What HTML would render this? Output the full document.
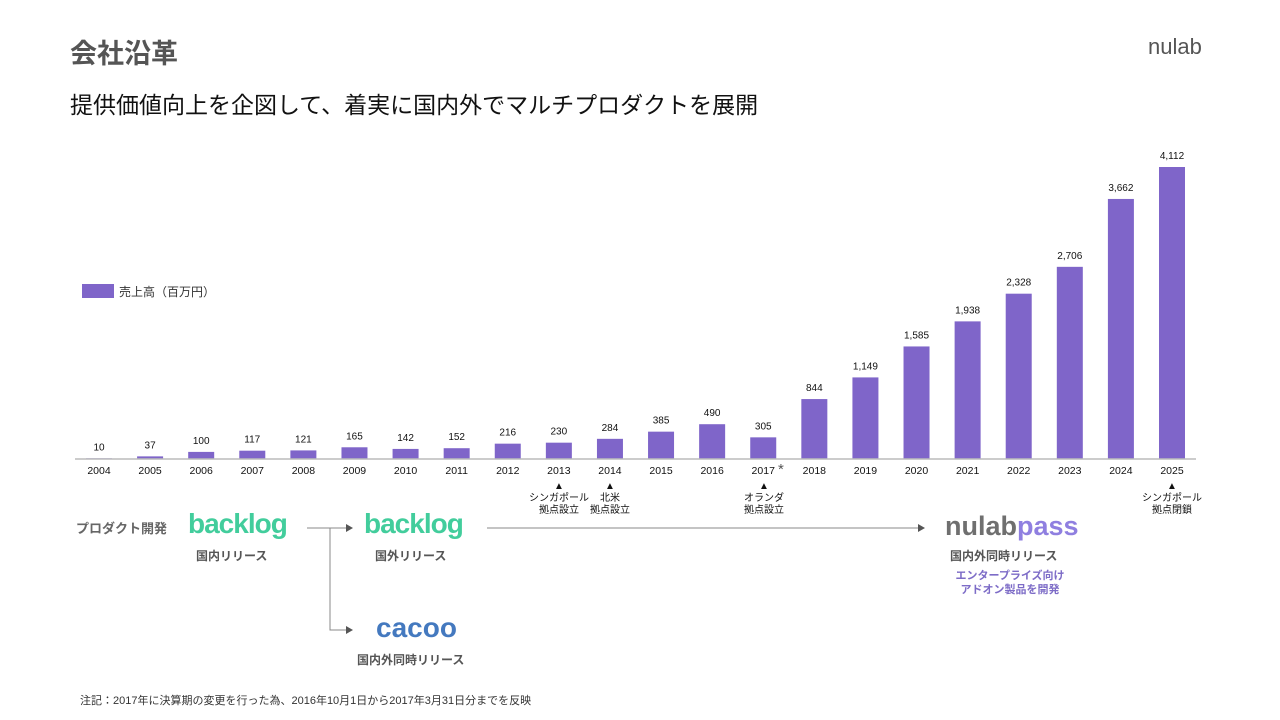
<!DOCTYPE html>
<html><head><meta charset="utf-8">
<style>
body{margin:0;width:1280px;height:720px;background:#fff;font-family:"Liberation Sans","Noto Sans CJK JP",sans-serif;position:relative;overflow:hidden}
.abs{position:absolute;white-space:nowrap}
</style></head><body>
<div class="abs" style="left:70px;top:32px;font-size:27px;font-weight:bold;color:#555">会社沿革</div>
<div class="abs" style="left:1148px;top:34px;font-size:22px;color:#555">nulab</div>
<div class="abs" style="left:70px;top:86px;font-size:23px;color:#111">提供価値向上を企図して、着実に国内外でマルチプロダクトを展開</div>
<svg id="chart" width="1280" height="720" style="position:absolute;left:0;top:0">
<rect x="82" y="284" width="32" height="14" fill="#7f65c9"/>
<text x="119" y="296" font-size="12" fill="#333" font-family="Liberation Sans, Noto Sans CJK JP, sans-serif">売上高（百万円）</text>
</svg>
<script>
const years=['2004','2005','2006','2007','2008','2009','2010','2011','2012','2013','2014','2015','2016','2017','2018','2019','2020','2021','2022','2023','2024','2025'];
const revenue=[10,37,100,117,121,165,142,152,216,230,284,385,490,305,844,1149,1585,1938,2328,2706,3662,4112];
const svg=document.getElementById('chart');
const NS='http://www.w3.org/2000/svg';
const base=459, x0=99, step=(1172-99)/21, k=292/4112, bw=26;
const xs=i=>x0+i*step, ys=v=>base-v*k;
function mk(t,a){const e=document.createElementNS(NS,t);for(const n in a)e.setAttribute(n,a[n]);svg.appendChild(e);return e;}
revenue.forEach((v,i)=>{
 const b=mk('rect',{x:xs(i)-bw/2,y:ys(v),width:bw,height:base-ys(v),fill:'#7f65c9'});
 
 
 const t=mk('text',{x:xs(i),y:ys(v)-8,'font-size':'10','text-anchor':'middle',fill:'#111','font-family':'Liberation Sans, sans-serif'});
 t.textContent=v.toLocaleString('en-US');
 
 
 const y=mk('text',{x:xs(i),y:474,'font-size':'10.5','text-anchor':'middle',fill:'#111','font-family':'Liberation Sans, sans-serif'});
 y.textContent=years[i];
 
 
});
const ax=mk('line',{x1:75,x2:1196,y1:base,y2:base,stroke:'#bbb','stroke-width':'1.5'});


</script>
<div class="abs" style="left:778px;top:461px;font-size:15px;color:#555">*</div>
<div class="abs" style="left:529px;top:481px;width:60px;text-align:center;font-size:10px;line-height:12px;color:#111">▲<br>シンガポール<br>拠点設立</div>
<div class="abs" style="left:580px;top:481px;width:60px;text-align:center;font-size:10px;line-height:12px;color:#111">▲<br>北米<br>拠点設立</div>
<div class="abs" style="left:734px;top:481px;width:60px;text-align:center;font-size:10px;line-height:12px;color:#111">▲<br>オランダ<br>拠点設立</div>
<div class="abs" style="left:1142px;top:481px;width:60px;text-align:center;font-size:10px;line-height:12px;color:#111">▲<br>シンガポール<br>拠点閉鎖</div>
<div class="abs" style="left:76px;top:518px;font-size:13px;font-weight:bold;color:#666">プロダクト開発</div>
<div class="abs" style="left:188px;top:508px;font-size:28px;font-weight:bold;color:#42cd9c;letter-spacing:-1px">backlog</div>
<div class="abs" style="left:196px;top:547px;font-size:12px;font-weight:bold;color:#555">国内リリース</div>
<div class="abs" style="left:364px;top:508px;font-size:28px;font-weight:bold;color:#42cd9c;letter-spacing:-1px">backlog</div>
<div class="abs" style="left:375px;top:547px;font-size:12px;font-weight:bold;color:#555">国外リリース</div>
<div class="abs" style="left:376px;top:612px;font-size:28px;font-weight:bold;color:#4479bf">cacoo</div>
<div class="abs" style="left:357px;top:651px;font-size:12px;font-weight:bold;color:#555">国内外同時リリース</div>
<div class="abs" style="left:945px;top:511px;font-size:27px;font-weight:bold;color:#6f6f6f">nulab<span style="color:#8f7fe0">pass</span></div>
<div class="abs" style="left:950px;top:547px;font-size:12px;font-weight:bold;color:#555">国内外同時リリース</div>
<div class="abs" style="left:950px;top:569px;width:120px;text-align:center;font-size:11px;line-height:14px;font-weight:bold;color:#7d6cc7">エンタープライズ向け<br>アドオン製品を開発</div>
<svg width="1280" height="720" style="position:absolute;left:0;top:0">
<g stroke="#888" stroke-width="1" fill="none">
<path d="M307 528 H346"/><path d="M330 528 V630 H346"/><path d="M487 528 H918"/>
</g>
<g fill="#555"><path d="M346 524 L353 528 L346 532Z"/><path d="M346 626 L353 630 L346 634Z"/><path d="M918 524 L925 528 L918 532Z"/></g>
</svg>
<div class="abs" style="left:80px;top:692px;font-size:11px;color:#333">注記：2017年に決算期の変更を行った為、2016年10月1日から2017年3月31日分までを反映</div>
</body></html>
